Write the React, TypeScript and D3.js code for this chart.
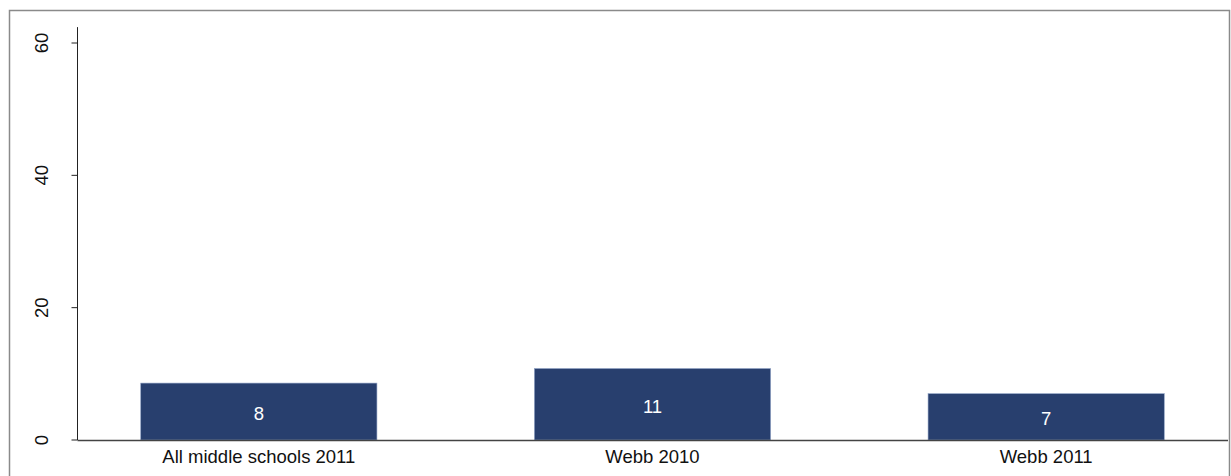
import React from "react";
import * as d3 from "d3";

const categories = ["All middle schools 2011", "Webb 2010", "Webb 2011"];
const values = [8.6, 10.8, 7.0];
const valueLabels = ["8", "11", "7"];
const yTicks = [0, 20, 40, 60];
const yAxisTop = 62.4;

const W = 1231;
const H = 476;
const BAR = "#283f6e";
const FONT = "'Liberation Sans', Arial, sans-serif";

export default function App() {
  const y = d3.scaleLinear().domain([0, 60]).range([440, 43]);
  const x = d3
    .scaleBand<string>()
    .domain(categories)
    .range([62, 1243])
    .paddingInner(0.4)
    .paddingOuter(0.2);
  const axisX = 77.5;
  const y0 = y(0);
  return (
    <div style={{ position: "fixed", left: 0, top: 0 }}>
      <svg width={W} height={H} style={{ display: "block" }}>
        <rect x={0} y={0} width={W} height={H} fill="#fff" />
        <rect x={9.5} y={10.5} width={1220} height={500} fill="none" stroke="#8a8a8a" strokeWidth={1.5} />
        {/* y axis */}
        <line x1={axisX} x2={axisX} y1={y(yAxisTop)} y2={y0} stroke="#222" strokeWidth={1} />
        {yTicks.map((t) => (
          <g key={t}>
            <line x1={axisX - 6} x2={axisX} y1={y(t)} y2={y(t)} stroke="#222" strokeWidth={1} />
            <text
              transform={`translate(${48},${y(t)}) rotate(-90)`}
              textAnchor="middle"
              fontFamily={FONT}
              fontSize={18.5}
              fill="#111"
            >
              {t}
            </text>
          </g>
        ))}
        {/* bars */}
        {categories.map((c, i) => (
          <g key={c}>
            <rect
              x={x(c)!}
              y={y(values[i])}
              width={x.bandwidth()}
              height={y0 - y(values[i])}
              fill={BAR}
              stroke="#8ea0c4"
              strokeWidth={0.6}
            />
            <text
              x={x(c)! + x.bandwidth() / 2}
              y={(y(values[i]) + y0) / 2}
              dy="0.45em"
              textAnchor="middle"
              fontFamily={FONT}
              fontSize={18.5}
              fill="#fff"
            >
              {valueLabels[i]}
            </text>
            <text
              x={x(c)! + x.bandwidth() / 2}
              y={463}
              textAnchor="middle"
              fontFamily={FONT}
              fontSize={18.5}
              fill="#111"
            >
              {c}
            </text>
          </g>
        ))}
        {/* x axis line */}
        <line x1={axisX} x2={1228} y1={y0 + 0.5} y2={y0 + 0.5} stroke="#444" strokeWidth={1.5} />
      </svg>
    </div>
  );
}
